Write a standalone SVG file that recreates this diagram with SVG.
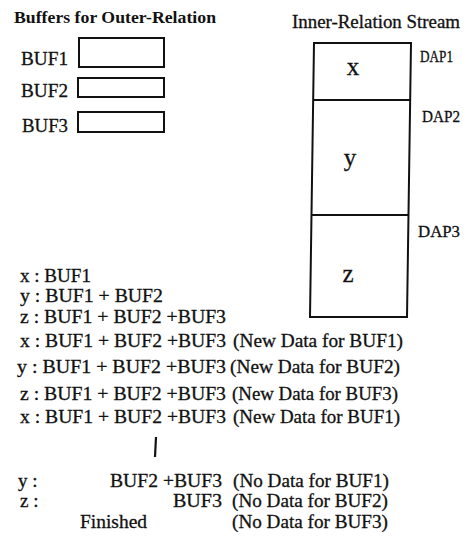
<svg xmlns="http://www.w3.org/2000/svg" width="471" height="542" viewBox="0 0 471 542" font-family="'Liberation Serif', 'Times New Roman', 'DejaVu Serif', serif">
<style>
text{font-family:'Liberation Serif','Times New Roman','DejaVu Serif',serif;fill:#111;stroke:#111;stroke-width:0.3;font-size:19px}
.t{font-weight:bold;font-size:17.5px;stroke-width:0}
.h{font-size:18px}
.dap{font-size:17px}
.big{font-size:25px}
.box{fill:none;stroke:#111;stroke-width:2}
.bar{stroke:#111;stroke-width:2.2;fill:none}
</style>
<rect width="471" height="542" fill="#fff"/>
<g id="outer-title"><text class="t" x="14" y="23" textLength="202" lengthAdjust="spacingAndGlyphs">Buffers for Outer-Relation</text></g>
<g id="buf1"><text x="21" y="65" textLength="47" lengthAdjust="spacingAndGlyphs">BUF1</text><rect class="box" x="79" y="38" width="85" height="29"/></g>
<g id="buf2"><text x="21" y="97" textLength="47" lengthAdjust="spacingAndGlyphs">BUF2</text><rect class="box" x="78" y="78" width="86" height="19"/></g>
<g id="buf3"><text x="22" y="132" textLength="46" lengthAdjust="spacingAndGlyphs">BUF3</text><rect class="box" x="78" y="112" width="86" height="20"/></g>
<g id="inner-title"><text class="h" x="292" y="28" textLength="168" lengthAdjust="spacingAndGlyphs">Inner-Relation Stream</text></g>
<g id="stream">
<path class="box" d="M314,43 L411,43 L407,317 L310,317 Z"/>
<g id="seg-x"><line class="box" x1="313" y1="100" x2="410" y2="100"/><text class="big" x="353" y="75" text-anchor="middle">x</text></g>
<g id="seg-y"><line class="box" x1="312" y1="215" x2="409" y2="215"/><text class="big" x="350" y="166" text-anchor="middle">y</text></g>
<g id="seg-z"><text class="big" x="348" y="282" text-anchor="middle">z</text></g>
</g>
<g id="dap1"><text class="dap" x="420" y="62" textLength="33" lengthAdjust="spacingAndGlyphs">DAP1</text></g>
<g id="dap2"><text class="dap" x="422" y="122" textLength="38" lengthAdjust="spacingAndGlyphs">DAP2</text></g>
<g id="dap3"><text class="dap" x="418" y="237" textLength="42" lengthAdjust="spacingAndGlyphs">DAP3</text></g>
<g id="steps">
<text x="20" y="282" textLength="71" lengthAdjust="spacingAndGlyphs">x : BUF1</text>
<text x="20" y="302" textLength="143" lengthAdjust="spacingAndGlyphs">y : BUF1 + BUF2</text>
<text x="20" y="323" textLength="206" lengthAdjust="spacingAndGlyphs">z : BUF1 + BUF2 +BUF3</text>
<text x="20" y="347" textLength="206" lengthAdjust="spacingAndGlyphs">x : BUF1 + BUF2 +BUF3</text>
<text x="233" y="347" textLength="170" lengthAdjust="spacingAndGlyphs">(New Data for BUF1)</text>
<text x="17" y="373" textLength="209" lengthAdjust="spacingAndGlyphs">y : BUF1 + BUF2 +BUF3</text>
<text x="230" y="373" textLength="170" lengthAdjust="spacingAndGlyphs">(New Data for BUF2)</text>
<text x="20" y="400" textLength="206" lengthAdjust="spacingAndGlyphs">z : BUF1 + BUF2 +BUF3</text>
<text x="232" y="400" textLength="166" lengthAdjust="spacingAndGlyphs">(New Data for BUF3)</text>
<text x="20" y="423" textLength="206" lengthAdjust="spacingAndGlyphs">x : BUF1 + BUF2 +BUF3</text>
<text x="233" y="423" textLength="167" lengthAdjust="spacingAndGlyphs">(New Data for BUF1)</text>
<text x="18" y="487">y :</text>
<text x="110" y="487" textLength="112" lengthAdjust="spacingAndGlyphs">BUF2 +BUF3</text>
<text x="233" y="487" textLength="156" lengthAdjust="spacingAndGlyphs">(No Data for BUF1)</text>
<text x="20" y="507">z :</text>
<text x="173" y="507" textLength="49" lengthAdjust="spacingAndGlyphs">BUF3</text>
<text x="232" y="507" textLength="156" lengthAdjust="spacingAndGlyphs">(No Data for BUF2)</text>
<text x="80" y="528" textLength="67" lengthAdjust="spacingAndGlyphs">Finished</text>
<text x="232" y="528" textLength="156" lengthAdjust="spacingAndGlyphs">(No Data for BUF3)</text>
</g>
<g id="connectors"><line class="bar" x1="156" y1="437" x2="155" y2="457"/></g>
</svg>
